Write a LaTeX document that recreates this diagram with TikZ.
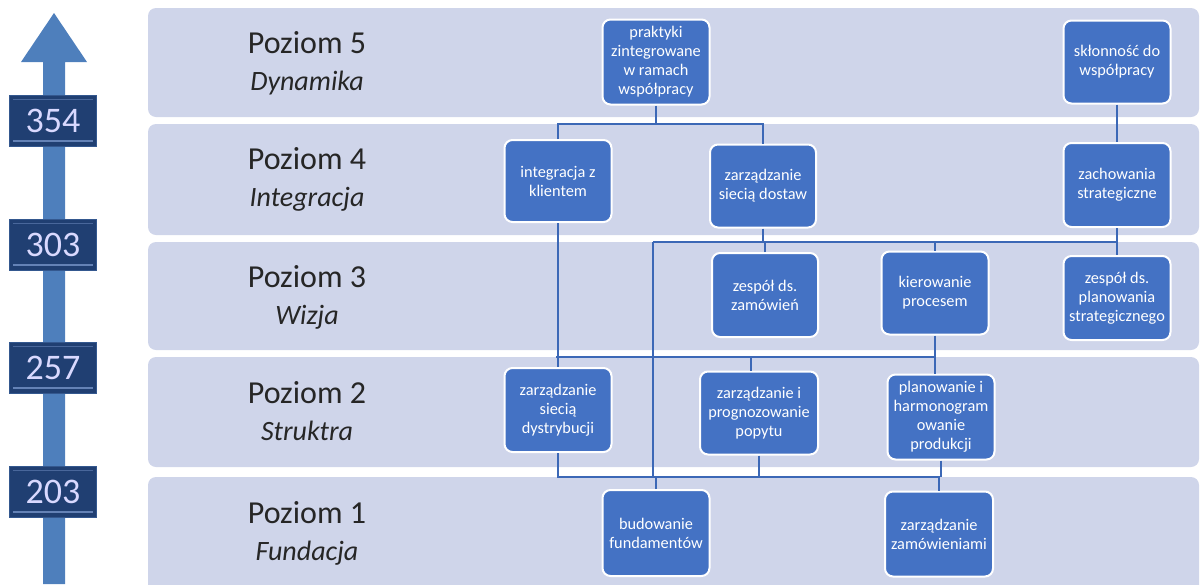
\documentclass[tikz,border=0pt]{standalone}
\usepackage{fontspec}
\setmainfont{Carlito}

\definecolor{bandfill}{HTML}{CFD5EA}
\definecolor{boxblue}{HTML}{4472C4}
\definecolor{wireblue}{HTML}{3C68B6}
\definecolor{shaftblue}{HTML}{4E7FBC}
\definecolor{navy}{HTML}{203F72}
\definecolor{navyedge}{HTML}{34588F}
\definecolor{navylight}{HTML}{6482B6}

\begin{document}
\begin{tikzpicture}[x=1pt,y=-1pt,
  levelband/.style={fill=bandfill, rounded corners=8pt},
  stage/.style={draw=white, line width=2pt, fill=boxblue, rounded corners=8pt,
    text=white, align=center, font=\fontsize{16.3}{19}\selectfont,
    minimum width=107pt, minimum height=84pt, inner sep=0pt},
  wire/.style={draw=wireblue, line width=2.4pt},
  levelname/.style={align=center, text=black!85, font=\fontsize{32}{37}\selectfont},
  tag/.style={fill=navy, draw=navyedge, line width=1.5pt,
    minimum width=87pt, minimum height=51pt, inner sep=0pt,
    text=white!85!blue, font=\fontsize{36}{36}\selectfont}]

\useasboundingbox (0,0) rectangle (1201,584);

% level bands
\fill[levelband] (148,8)   rectangle (1199,117);
\fill[levelband] (148,124) rectangle (1199,235);
\fill[levelband] (148,242) rectangle (1199,350);
\fill[levelband] (148,357) rectangle (1199,467);
\fill[levelband] (148,477) rectangle (1199,600);

% level names
\newcommand\lvlsub[1]{{\fontsize{28}{37}\selectfont\itshape #1}}
\node[levelname] (l5) at (307,63)  {Poziom 5\\\lvlsub{Dynamika}};
\node[levelname] (l4) at (307,179) {Poziom 4\\\lvlsub{Integracja}};
\node[levelname] (l3) at (307,297) {Poziom 3\\\lvlsub{Wizja}};
\node[levelname] (l2) at (307,411) {Poziom 2\\\lvlsub{Struktra}};
\node[levelname] (l1) at (307,533) {Poziom 1\\\lvlsub{Fundacja}};

% scale arrow
\fill[shaftblue] (43,62) -- (21,62) -- (54,13) -- (87,62) -- (65,62)
  -- (65,584) -- (43,584) -- cycle;
\foreach \v/\y in {354/121, 303/245, 257/368, 203/492} {
  \node[tag] (t\v) at (53,\y) {\v};
  \draw[navylight, line width=1.8pt]
    ([shift={(4pt,6pt)}]t\v.south west) -- ([shift={(-4pt,6pt)}]t\v.south east);
  \draw[navylight!60!navy, line width=1.2pt]
    ([shift={(4pt,-5pt)}]t\v.north west) -- ([shift={(-4pt,-5pt)}]t\v.north east);
}

% stages
\node[stage, minimum height=85pt] (prak) at (656,62) {praktyki\\zintegrowane\\w ramach\\współpracy};
\node[stage, minimum height=83pt] (sklon) at (1117,62) {skłonność do\\współpracy};
\node[stage, minimum height=82pt] (integ) at (558,181) {integracja z\\klientem};
\node[stage, minimum height=83pt, minimum width=106pt] (dostaw) at (763,186) {zarządzanie\\siecią dostaw};
\node[stage] (zach) at (1117,185) {zachowania\\strategiczne};
\node[stage, minimum width=106pt] (zamow) at (765,295) {zespół ds.\\zamówień};
\node[stage, minimum height=83pt] (kier) at (935,293) {kierowanie\\procesem};
\node[stage] (planstrat) at (1117,298) {zespół ds.\\planowania\\strategicznego};
\node[stage] (dystr) at (558,410) {zarządzanie\\siecią\\dystrybucji};
\node[stage, minimum width=118pt, minimum height=83pt] (popyt) at (759,413) {zarządzanie i\\prognozowanie\\popytu};
\node[stage, minimum height=85pt] (plan) at (941,417) {planowanie i\\harmonogram\\owanie\\produkcji};
\node[stage, minimum height=86pt] (budow) at (656,533) {budowanie\\fundamentów};
\node[stage, minimum width=108pt, minimum height=85pt] (zamowien) at (939,534) {zarządzanie\\zamówieniami};

% junction points of the connector buses
\coordinate (j54) at (656,124);
\coordinate (j43) at (653,242);
\coordinate (j32) at (556,357);
\coordinate (j21) at (653,477);

% connectors, level 5 to 4
\draw[wire] (prak.south) -- (j54);
\draw[wire] (integ.north) |- (j54) -| (dostaw.north);
\draw[wire] (sklon.south) -- (zach.north);

% connectors, level 4 to 3
\draw[wire] (dostaw.south) -- (dostaw.south |- j43);
\draw[wire] (zach.south) -- (planstrat.north);
\draw[wire] (j43) -| (planstrat.north);
\draw[wire] (zamow.north) -- (zamow.north |- j43);
\draw[wire] (kier.north) -- (kier.north |- j43);

% connectors, level 3 to 2
\draw[wire] (integ.south) -- (dystr.north);
\draw[wire] (j32) -- (j32 -| kier.south);
\draw[wire] (kier.south) -- (kier.south |- plan.north);
\draw[wire] ([xshift=-8pt]popyt.north) -- ([xshift=-8pt]popyt.north |- j32);

% connectors, level 2 to 1
\draw[wire] (j43) -- (j21);
\draw[wire] (dystr.south) |- (j21);
\draw[wire] (j21) -| (zamowien.north);
\draw[wire] (popyt.south) -- (popyt.south |- j21);
\draw[wire] (plan.south) -- (plan.south |- j21);
\draw[wire] (budow.north) -- (budow.north |- j21);

\end{tikzpicture}
\end{document}
